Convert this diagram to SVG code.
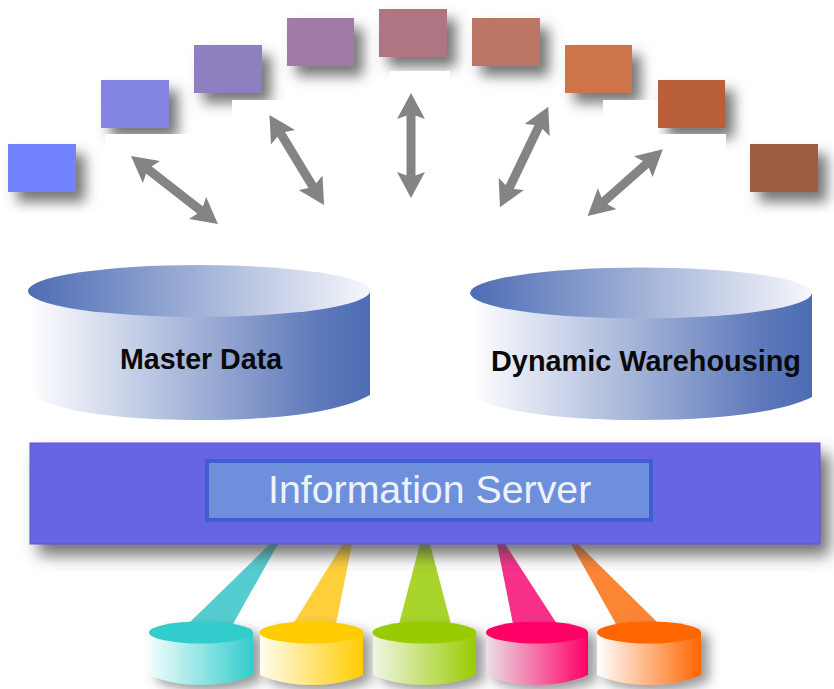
<svg xmlns="http://www.w3.org/2000/svg" width="834" height="689" viewBox="0 0 834 689">
<style>
.sq{filter:url(#sqShadow)}
.trim{fill:#fff}
.arrow{stroke:#848484;stroke-width:9;fill:none;marker-start:url(#head);marker-end:url(#head)}
.big{font:bold 28.6px "Liberation Sans",Arial,sans-serif;fill:#0a0a0a}
.srv{font:39.3px "Liberation Sans",Arial,sans-serif;fill:#eef3fb}
.cyl{filter:url(#cylShadow)}
</style>
<defs>
<filter id="sqShadow" x="-40%" y="-40%" width="190%" height="200%"><feDropShadow dx="9" dy="10" stdDeviation="6.500" flood-color="#555" flood-opacity=".8"/></filter>
<filter id="cylShadow" x="-20%" y="-20%" width="150%" height="150%"><feDropShadow dx="8" dy="6" stdDeviation="6" flood-color="#555" flood-opacity=".6"/></filter>
<filter id="barShadow" x="-5%" y="-10%" width="110%" height="150%"><feDropShadow dx="9" dy="11" stdDeviation="8" flood-color="#444" flood-opacity=".75"/></filter>
<marker id="head" markerUnits="userSpaceOnUse" markerWidth="28" markerHeight="28" refX="8" refY="14" orient="auto-start-reverse"><path d="M0,0L26,14L0,28L5,14Z" fill="#848484"/></marker>
<linearGradient id="topG"><stop offset="0" stop-color="#4c6cb4"/><stop offset="1" stop-color="#f6f7fb"/></linearGradient>
<linearGradient id="bodyG"><stop offset="0" stop-color="#fff"/><stop offset=".85" stop-color="#5e79ba"/><stop offset="1" stop-color="#4c6cb4"/></linearGradient>
<linearGradient id="cG"><stop offset="0" stop-color="#f2fdfd"/><stop offset="1" stop-color="#33cccc"/></linearGradient>
<linearGradient id="yG"><stop offset="0" stop-color="#fffdf0"/><stop offset="1" stop-color="#ffcc00"/></linearGradient>
<linearGradient id="gG"><stop offset="0" stop-color="#f0f6e4"/><stop offset="1" stop-color="#99cc00"/></linearGradient>
<linearGradient id="pG"><stop offset="0" stop-color="#eadfe6"/><stop offset="1" stop-color="#ff0066"/></linearGradient>
<linearGradient id="oG"><stop offset="0" stop-color="#fff"/><stop offset="1" stop-color="#ff6600"/></linearGradient>
</defs>
<rect width="834" height="689" fill="#fff"/>

<g id="square-1"><rect class="sq" x="8" y="144" width="68" height="48" fill="#6f83fc"/></g>
<g id="square-2"><rect class="sq" x="101" y="80" width="68" height="48" fill="#8484e4"/></g>
<g id="square-3"><rect class="sq" x="194" y="45" width="68" height="48" fill="#8d7fc0"/></g>
<g id="square-4"><rect class="sq" x="287" y="18" width="67" height="48" fill="#a27aa8"/></g>
<g id="square-5"><rect class="sq" x="379" y="9" width="68" height="48" fill="#b07482"/></g>
<g id="square-6"><rect class="sq" x="472" y="18" width="68" height="48" fill="#bc7666"/></g>
<g id="square-7"><rect class="sq" x="565" y="45" width="67" height="48" fill="#cd7548"/></g>
<g id="square-8"><rect class="sq" x="658" y="80" width="67" height="48" fill="#b9603a"/></g>
<g id="square-9"><rect class="sq" x="750" y="144" width="68" height="48" fill="#9c5d42"/></g>
<g id="shadow-trim" class="trim">
<rect x="105" y="134" width="621" height="100"/>
<rect x="232" y="100" width="170" height="40"/>
<rect x="390" y="71" width="60" height="40"/>
<rect x="603" y="100" width="55" height="40"/>
<rect x="0" y="213" width="834" height="20"/>
</g>

<g id="connectors">
<line class="arrow" x1="145.200" y1="167.100" x2="203.800" y2="212.900"/>
<line class="arrow" x1="278.800" y1="130.400" x2="314.700" y2="189.600"/>
<line class="arrow" x1="411" y1="111" x2="411" y2="180"/>
<line class="arrow" x1="540.500" y1="122.900" x2="507.800" y2="191.100"/>
<line class="arrow" x1="649.300" y1="161.300" x2="601.100" y2="204"/>
<polygon points="270,544 278,544 233,624 188,624" fill="#55cdd0"/>
<polygon points="343,544 352,544 336,624 293,624" fill="#fdcf3a"/>
<polygon points="420,544 430,544 451,624 399,624" fill="#a8d42c"/>
<polygon points="497,544 505,544 557,624 513,624" fill="#f8308a"/>
<polygon points="571,544 578,544 659,624 616,624" fill="#fb8534"/>
</g>

<g id="master-data">
<path d="M29,291V395C60,412 120,420 200,420S340,412 370,395V291Z" fill="url(#bodyG)"/>
<ellipse cx="199" cy="291" rx="171" ry="26" fill="url(#topG)"/>
<text class="big" x="120" y="369">Master Data</text>
</g>
<g id="dynamic-warehousing">
<path d="M471,293V397C502,412 562,420 642,420S782,412 812,397V293Z" fill="url(#bodyG)"/>
<ellipse cx="641" cy="293" rx="171" ry="25.500" fill="url(#topG)"/>
<text class="big" x="491" y="371" textLength="310" lengthAdjust="spacingAndGlyphs">Dynamic Warehousing</text>
</g>

<g id="information-server">
<rect x="30" y="443" width="790" height="101" fill="#6865e4" stroke="#5a58c4" stroke-width="1" style="filter:url(#barShadow)"/>
<rect x="207" y="461" width="444" height="59" fill="#6e8fdb" stroke="#3f5fd0" stroke-width="4"/>
<text class="srv" x="268" y="503">Information Server</text>
</g>

<g id="source-1" class="cyl"><path d="M149,632V675C165,682 185,685 201,685S238,682 253,675V632Z" fill="url(#cG)"/><ellipse cx="201" cy="632.500" rx="52" ry="11" fill="#33cccc"/></g>
<g id="source-2" class="cyl"><path d="M260,632V675C276,682 296,685 312,685S348,682 363,675V632Z" fill="url(#yG)"/><ellipse cx="311.500" cy="632.500" rx="52" ry="11" fill="#ffcc00"/></g>
<g id="source-3" class="cyl"><path d="M373,632V675C389,682 409,685 425,685S461,682 476,675V632Z" fill="url(#gG)"/><ellipse cx="424.500" cy="632.500" rx="52" ry="11" fill="#99cc00"/></g>
<g id="source-4" class="cyl"><path d="M486,632V675C502,682 522,685 537,685S573,682 588,675V632Z" fill="url(#pG)"/><ellipse cx="537" cy="632.500" rx="51" ry="11" fill="#ff0066"/></g>
<g id="source-5" class="cyl"><path d="M597,632V675C613,682 633,685 649,685S686,682 701,675V632Z" fill="url(#oG)"/><ellipse cx="649" cy="632.500" rx="52" ry="11" fill="#ff6600"/></g>
</svg>
